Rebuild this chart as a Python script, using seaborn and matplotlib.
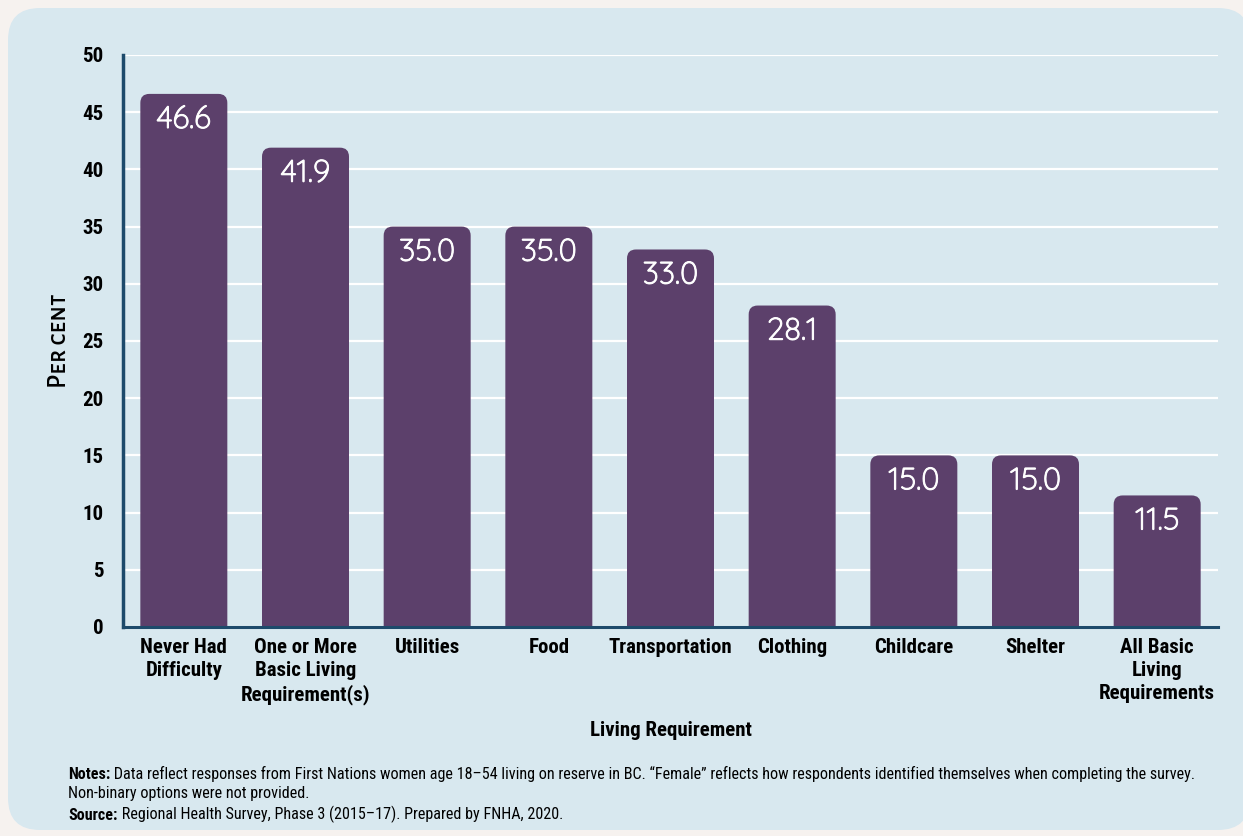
import matplotlib
matplotlib.use("Agg")
import matplotlib.pyplot as plt
import matplotlib.patheffects as pe
import seaborn as sns
import pandas as pd
from matplotlib.patches import FancyBboxPatch
from matplotlib.transforms import IdentityTransform

categories = ["Never Had\nDifficulty", "One or More\nBasic Living\nRequirement(s)", "Utilities", "Food",
              "Transportation", "Clothing", "Childcare", "Shelter", "All Basic\nLiving\nRequirements"]
values = [46.6, 41.9, 35.0, 35.0, 33.0, 28.1, 15.0, 15.0, 11.5]
yticks = [0, 5, 10, 15, 20, 25, 30, 35, 40, 45, 50]

BAR = "#5c406b"
PANEL = "#d8e8ef"
PAGE = "#f6f2ef"
SPINE = "#1d4a6b"
COND = "Roboto Condensed"
NOTE = "Roboto Condensed"

sns.set_theme(style="white")
plt.rcParams['font.family'] = ['DejaVu Sans']

fig = plt.figure(figsize=(12.43, 8.36), dpi=100)
fig.patch.set_facecolor(PAGE)
W, H = 1243, 836
panel = FancyBboxPatch((8, H - 830), 1250 - 8, 830 - 8, boxstyle="round,pad=0,rounding_size=32",
                       transform=IdentityTransform(), facecolor=PANEL, edgecolor="none", zorder=-10)
fig.patches.append(panel)

ax = fig.add_axes([123 / W, 1 - 627 / H, (1218 - 123) / W, (627 - 55) / H])
ax.set_facecolor("none")

df = pd.DataFrame({"cat": categories, "val": values})
sns.barplot(data=df, x="cat", y="val", color=BAR, width=0.715, saturation=1, ax=ax, zorder=3)
ax.set_ylim(0, 50)
ax.set_xlim(-0.5, len(categories) - 0.5)
ax.set_yticks(yticks)
ax.yaxis.grid(True, color="white", linewidth=1.6, zorder=1)
ax.set_axisbelow(True)
for s in ["top", "right"]:
    ax.spines[s].set_visible(False)
for s, lw in [("left", 2.5), ("bottom", 2.2)]:
    ax.spines[s].set_color(SPINE)
    ax.spines[s].set_linewidth(lw)
    ax.spines[s].set_zorder(5)
ax.tick_params(axis="both", length=0)
ax.tick_params(axis="y", pad=14)
ax.tick_params(axis="x", pad=8)
for lab in ax.get_yticklabels() + ax.get_xticklabels():
    lab.set_fontfamily(COND); lab.set_fontweight("bold"); lab.set_fontsize(15); lab.set_color("black")
    lab.set_linespacing(1.25)

ax.set_xlabel("Living Requirement", fontfamily=COND, fontweight="bold", fontsize=15, color="black", labelpad=12)
ax.set_ylabel("Per cent", fontfamily="Alegreya Sans SC", fontweight="medium", fontsize=19, color="black", labelpad=12)

fig.canvas.draw()
tr = ax.transData
px_x = tr.transform((1, 0))[0] - tr.transform((0, 0))[0]
px_y = tr.transform((0, 1))[1] - tr.transform((0, 0))[1]
r_px = 9
bars = list(ax.patches)
for p in bars:
    x0, w, h = p.get_x(), p.get_width(), p.get_height()
    p.remove()
    ext = r_px / px_y * 2
    fb = FancyBboxPatch((x0, -ext), w, h + ext,
                        boxstyle=f"round,pad=0,rounding_size={r_px / px_x}",
                        mutation_aspect=px_x / px_y,
                        facecolor=BAR, edgecolor="none", zorder=3)
    ax.add_patch(fb)
    fb.set_clip_path(ax.patch)
    ax.annotate(f"{h:.1f}", xy=(x0 + w / 2, h), xytext=(0, -18.5), textcoords="offset points",
                ha="center", va="center", color="white", fontsize=22.5, fontfamily="Quicksand",
                zorder=6, path_effects=[pe.withStroke(linewidth=0.7, foreground="white")])

FS = 11.6
t1 = fig.text(68 / W, 1 - 779 / H, "Notes:", fontfamily=NOTE, fontweight="bold", fontsize=FS, va="baseline", color="black")
ax.annotate(" Data reflect responses from First Nations women age 18\u201354 living on reserve in BC. \u201cFemale\u201d reflects how respondents identified themselves when completing the survey.",
            xy=(1, 0), xycoords=t1, va="bottom", ha="left", fontfamily=NOTE, fontsize=FS,
            annotation_clip=False, color="black")
fig.text(68 / W, 1 - 798 / H, "Non-binary options were not provided.", fontfamily=NOTE, fontsize=FS, va="baseline", color="black")
t2 = fig.text(68 / W, 1 - 820 / H, "Source:", fontfamily=NOTE, fontweight="bold", fontsize=FS, va="baseline", color="black")
ax.annotate(" Regional Health Survey, Phase 3 (2015\u201317). Prepared by FNHA, 2020.",
            xy=(1, 0), xycoords=t2, va="bottom", ha="left", fontfamily=NOTE, fontsize=FS,
            annotation_clip=False, color="black")

fig.savefig("out.png", dpi=100, facecolor=PAGE)
